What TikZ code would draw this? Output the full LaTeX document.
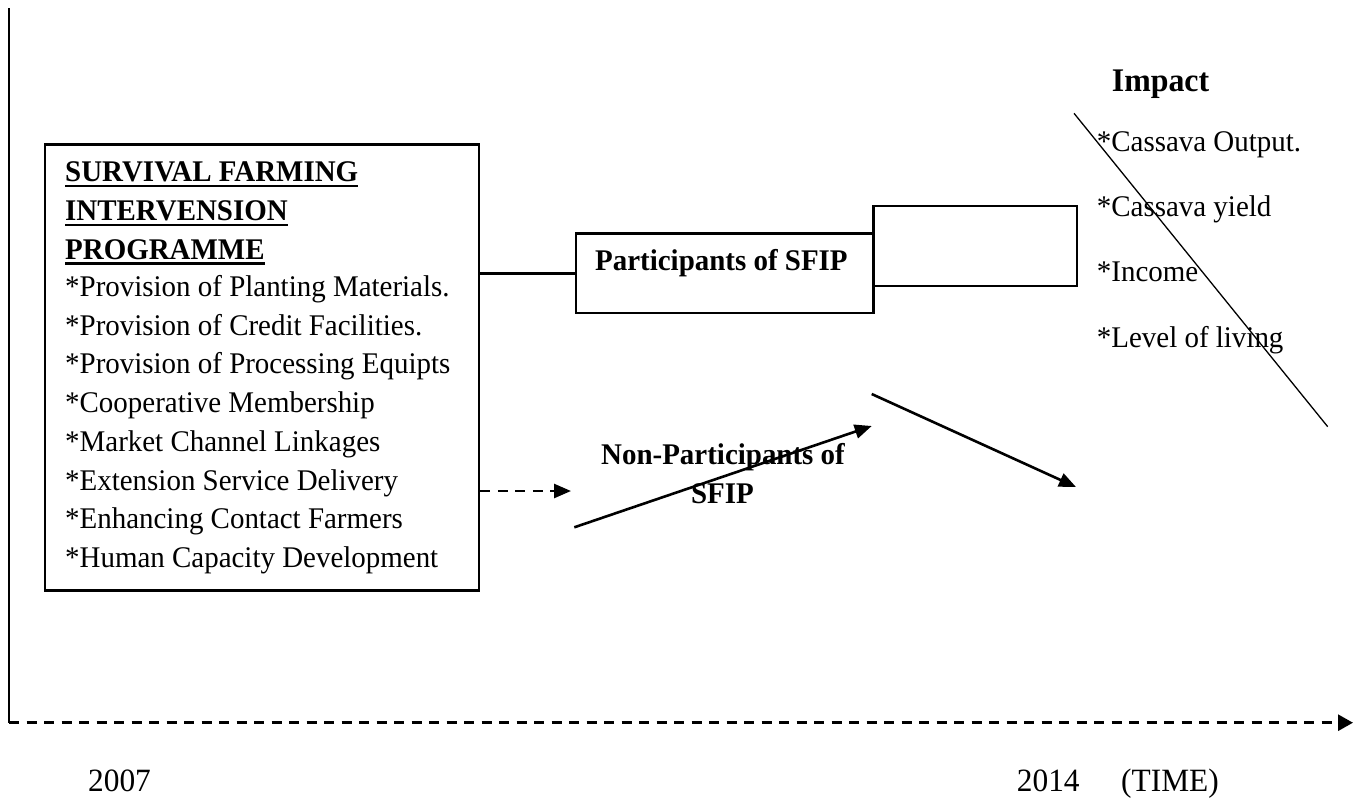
\documentclass[tikz,border=0pt]{standalone}
\usepackage{fontspec}
\setmainfont{Liberation Serif}[FakeStretch=0.965]
\usetikzlibrary{arrows.meta,calc}
\begin{document}
\begin{tikzpicture}[x=1pt,y=-1pt,
  txt/.style={inner sep=0pt, anchor=base west, font=\fontsize{30}{36}\selectfont},
  btxt/.style={inner sep=0pt, anchor=base west, font=\fontsize{30}{36}\selectfont\bfseries},
  ytxt/.style={inner sep=0pt, anchor=base west, font=\fontsize{32.5}{38}\selectfont},
  boxr/.style={draw, line width=2.4pt, inner sep=0pt, anchor=north west},
  conn/.style={line width=2.6pt},
  arr/.style={line width=2.6pt, -{Triangle[length=17pt,width=14pt]}},
  uline/.style={line width=2.4pt}
]
\useasboundingbox (0,0) rectangle (1364,798);

% axes
\coordinate (top) at (9,8);
\coordinate (orig) at (9,722.7);
\coordinate (xend) at (1353,722.7);
\draw[line width=2pt] (top) -- (orig);
\draw[line width=2.8pt, dash pattern=on 10pt off 7.5pt, -{Triangle[length=15pt,width=16pt]}] (orig) -- (xend);
\node[ytxt] (y2007) at (88,791) {2007};
\node[ytxt] (y2014) at (1016.7,791) {2014};
\node[ytxt] (time) at (1121,791) {(TIME)};

% left box
\node[boxr, minimum width=434.5pt, minimum height=446pt] (sfip) at (43.5,143.3) {};
\node[btxt] (h1) at (65,181.7) {SURVIVAL FARMING};
\node[btxt] (h2) at (65,220.9) {INTERVENSION};
\node[btxt] (h3) at (65,259.5) {PROGRAMME};
\draw[uline] ([yshift=-4pt]h1.base west) -- ([yshift=-4pt]h1.base east);
\draw[uline] ([yshift=-4pt]h2.base west) -- ([yshift=-4pt]h2.base east);
\draw[uline] ([yshift=-4pt]h3.base west) -- ([yshift=-4pt]h3.base east);
\node[txt] (l1) at (65,296.9) {*Provision of Planting Materials.};
\node[txt] (l2) at (65,335.4) {*Provision of Credit Facilities.};
\node[txt] (l3) at (65,373.9) {*Provision of Processing Equipts};
\node[txt] (l4) at (65,412.4) {*Cooperative Membership};
\node[txt] (l5) at (65,451.2) {*Market Channel Linkages};
\node[txt] (l6) at (65,490.0) {*Extension Service Delivery};
\node[txt] (l7) at (65,528.8) {*Enhancing Contact Farmers};
\node[txt] (l8) at (65,567.6) {*Human Capacity Development};

% participants boxes
\node[boxr, minimum width=297.3pt, minimum height=79.4pt] (part) at (575,232.3) {};
\node[boxr, minimum width=203.4pt, minimum height=80pt] (emptybox) at (872.3,205) {};
\node[btxt, anchor=base] (parttxt) at (721.4,270) {Participants of SFIP};
\draw[conn] (sfip.east |- part.west) -- (part.west);

% non-participants
\coordinate (dA) at (571,491);
\draw[arr, dash pattern=on 10pt off 7.5pt] (sfip.east |- dA) -- (dA);
\node[btxt, anchor=base] (np1) at (723,464) {Non-Participants of};
\node[btxt, anchor=base] (np2) at (722.5,503.3) {SFIP};
\coordinate (r1) at (574.3,527.3);
\coordinate (r2) at (871.7,426);
\draw[arr] (r1) -- (r2);
\coordinate (f1) at (871.7,394);
\coordinate (f2) at (1076,487);
\draw[arr] (f1) -- (f2);

% impact
\node[btxt, font=\fontsize{33}{38}\selectfont\bfseries] (impact) at (1111.7,91.7) {Impact};
\node[txt] (i1) at (1096.7,151.7) {*Cassava Output.};
\node[txt] (i2) at (1096.7,216.7) {*Cassava yield};
\node[txt] (i3) at (1096.7,281.7) {*Income};
\node[txt] (i4) at (1096.7,347.3) {*Level of living};
\coordinate (d1) at (1074,113.3);
\coordinate (d2) at (1327.7,426.7);
\draw[line width=1.3pt] (d1) -- (d2);
\end{tikzpicture}
\end{document}
